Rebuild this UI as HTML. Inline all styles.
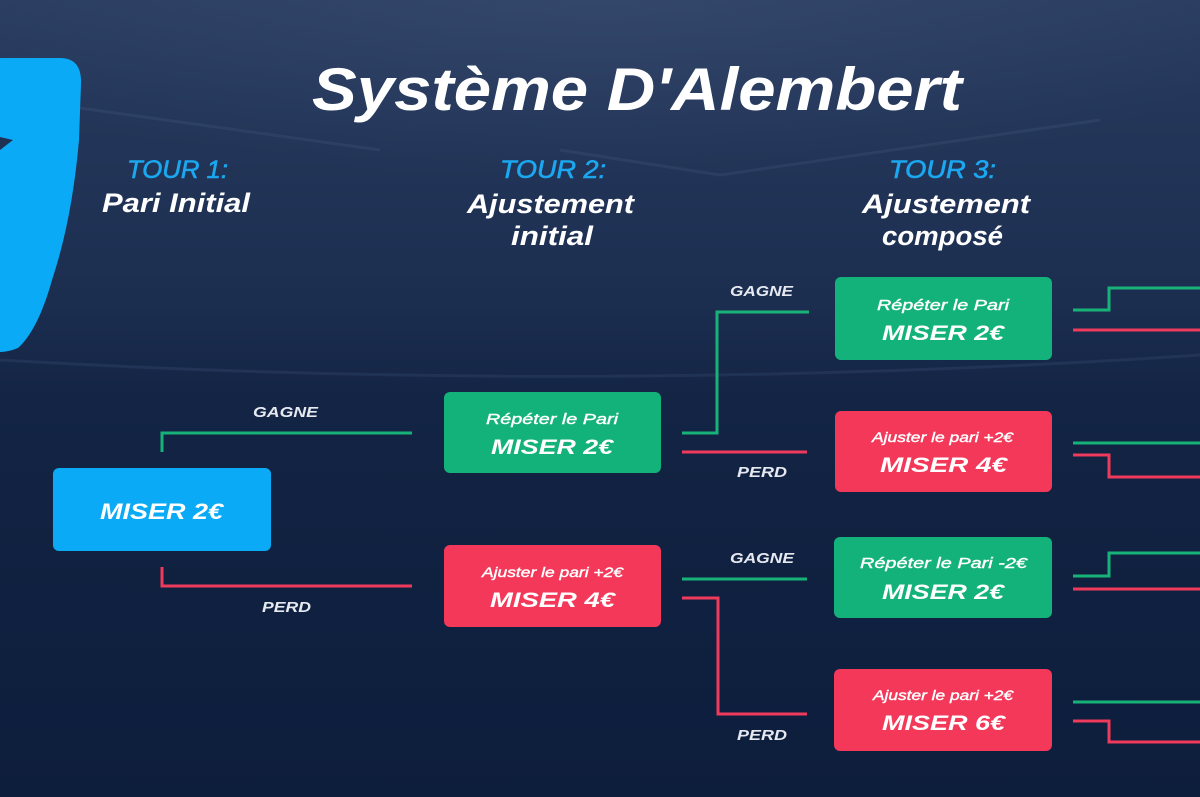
<!DOCTYPE html>
<html><head><meta charset="utf-8"><style>
html,body{margin:0;padding:0;background:#0f1f3f;}
svg{display:block;}
text{font-family:"Liberation Sans",sans-serif;font-style:italic;}
</style></head><body>
<svg width="1200" height="797" viewBox="0 0 1200 797" xmlns="http://www.w3.org/2000/svg">
<defs>
<linearGradient id="bg" x1="0" y1="0" x2="0" y2="1">
<stop offset="0" stop-color="#2a3d60"/>
<stop offset="0.12" stop-color="#24375a"/>
<stop offset="0.38" stop-color="#1c2e50"/>
<stop offset="0.5" stop-color="#132444"/>
<stop offset="1" stop-color="#0d1d3c"/>
</linearGradient>
<radialGradient id="glow" cx="0.5" cy="0" r="0.6">
<stop offset="0" stop-color="#4a5f85" stop-opacity="0.3"/>
<stop offset="1" stop-color="#4a5f85" stop-opacity="0"/>
</radialGradient>
</defs>
<rect width="1200" height="797" fill="url(#bg)"/>
<rect width="1200" height="300" fill="url(#glow)"/>
<!-- faint streaks -->
<g stroke="#5a6f93" stroke-opacity="0.18" stroke-width="3" fill="none">
<path d="M80 108 L380 150"/>
<path d="M560 150 L720 175"/>
<path d="M720 175 L1100 120"/>
<path d="M0 360 Q600 395 1200 355"/>
</g>
<!-- logo -->
<path d="M0 58 L60 58 Q82 58 81 84 L79 140 Q72 220 52 280 Q38 330 18 348 Q8 352 0 352 Z" fill="#0aaaf6"/>
<path d="M0 137 L13 140 L0 150 Z" fill="#1e3154"/>

<!-- title -->
<text x="312" y="110" font-size="60" font-weight="bold" fill="#ffffff" textLength="650" lengthAdjust="spacingAndGlyphs">Système D'Alembert</text>

<!-- headers -->
<g stroke="#1ba8f0" stroke-width="0.6">
<text x="127" y="178" font-size="25" fill="#1ba8f0" textLength="101" lengthAdjust="spacingAndGlyphs">TOUR 1:</text>
<text x="500" y="178" font-size="25" fill="#1ba8f0" textLength="106" lengthAdjust="spacingAndGlyphs">TOUR 2:</text>
<text x="889" y="178" font-size="25" fill="#1ba8f0" textLength="107" lengthAdjust="spacingAndGlyphs">TOUR 3:</text>
</g>
<text x="102" y="212" font-size="27" font-weight="bold" fill="#ffffff" textLength="148" lengthAdjust="spacingAndGlyphs">Pari Initial</text>
<text x="467" y="213" font-size="27" font-weight="bold" fill="#ffffff" textLength="167" lengthAdjust="spacingAndGlyphs">Ajustement</text>
<text x="511" y="245" font-size="27" font-weight="bold" fill="#ffffff" textLength="82" lengthAdjust="spacingAndGlyphs">initial</text>
<text x="862" y="213" font-size="27" font-weight="bold" fill="#ffffff" textLength="168" lengthAdjust="spacingAndGlyphs">Ajustement</text>
<text x="882" y="245" font-size="27" font-weight="bold" fill="#ffffff" textLength="121" lengthAdjust="spacingAndGlyphs">composé</text>

<!-- connectors -->
<g fill="none" stroke-width="3">
<polyline points="162,452 162,433 412,433" stroke="#17b277"/>
<polyline points="162,567 162,586 412,586" stroke="#ef3a5c"/>

<polyline points="682,433 717,433 717,312 809,312" stroke="#17b277"/>
<polyline points="682,452 807,452" stroke="#ef3a5c"/>
<polyline points="682,579 807,579" stroke="#17b277"/>
<polyline points="682,598 718,598 718,714 807,714" stroke="#ef3a5c"/>

<polyline points="1073,310 1109,310 1109,288 1200,288" stroke="#17b277"/>
<polyline points="1073,330 1200,330" stroke="#ef3a5c"/>
<polyline points="1073,443 1200,443" stroke="#17b277"/>
<polyline points="1073,455 1109,455 1109,477 1200,477" stroke="#ef3a5c"/>
<polyline points="1073,576 1109,576 1109,553 1200,553" stroke="#17b277"/>
<polyline points="1073,589 1200,589" stroke="#ef3a5c"/>
<polyline points="1073,702 1200,702" stroke="#17b277"/>
<polyline points="1073,721 1109,721 1109,742 1200,742" stroke="#ef3a5c"/>
</g>

<!-- GAGNE / PERD labels -->
<g font-size="15" font-weight="bold" fill="#e6e9f0">
<text x="253" y="417" textLength="65" lengthAdjust="spacingAndGlyphs">GAGNE</text>
<text x="262" y="612" textLength="49" lengthAdjust="spacingAndGlyphs">PERD</text>
<text x="730" y="296" textLength="63" lengthAdjust="spacingAndGlyphs">GAGNE</text>
<text x="737" y="477" textLength="50" lengthAdjust="spacingAndGlyphs">PERD</text>
<text x="730" y="563" textLength="64" lengthAdjust="spacingAndGlyphs">GAGNE</text>
<text x="737" y="740" textLength="50" lengthAdjust="spacingAndGlyphs">PERD</text>
</g>

<!-- boxes -->
<rect x="53" y="468" width="218" height="83" rx="6" fill="#0aaaf6"/>
<text x="100" y="519" font-size="22" font-weight="bold" fill="#ffffff" textLength="123" lengthAdjust="spacingAndGlyphs">MISER 2€</text>

<rect x="444" y="392" width="217" height="81" rx="6" fill="#12b27a"/>
<rect x="444" y="545" width="217" height="82" rx="6" fill="#f4385a"/>
<rect x="835" y="277" width="217" height="83" rx="6" fill="#12b27a"/>
<rect x="835" y="411" width="217" height="81" rx="6" fill="#f4385a"/>
<rect x="834" y="537" width="218" height="81" rx="6" fill="#12b27a"/>
<rect x="834" y="669" width="218" height="82" rx="6" fill="#f4385a"/>

<g fill="#ffffff" stroke="#ffffff" stroke-width="0.4">
<text x="486" y="424" font-size="15" textLength="132" lengthAdjust="spacingAndGlyphs">Répéter le Pari</text>
<text x="482" y="577" font-size="14" textLength="141" lengthAdjust="spacingAndGlyphs">Ajuster le pari +2€</text>
<text x="877" y="310" font-size="15" textLength="132" lengthAdjust="spacingAndGlyphs">Répéter le Pari</text>
<text x="872" y="442" font-size="14" textLength="141" lengthAdjust="spacingAndGlyphs">Ajuster le pari +2€</text>
<text x="860" y="568" font-size="15" textLength="167" lengthAdjust="spacingAndGlyphs">Répéter le Pari -2€</text>
<text x="873" y="700" font-size="14" textLength="140" lengthAdjust="spacingAndGlyphs">Ajuster le pari +2€</text>
</g>
<g fill="#ffffff" font-weight="bold" font-size="21">
<text x="491" y="454" textLength="122" lengthAdjust="spacingAndGlyphs">MISER 2€</text>
<text x="490" y="607" textLength="125" lengthAdjust="spacingAndGlyphs">MISER 4€</text>
<text x="882" y="340" textLength="122" lengthAdjust="spacingAndGlyphs">MISER 2€</text>
<text x="880" y="472" textLength="127" lengthAdjust="spacingAndGlyphs">MISER 4€</text>
<text x="882" y="599" textLength="122" lengthAdjust="spacingAndGlyphs">MISER 2€</text>
<text x="882" y="730" textLength="123" lengthAdjust="spacingAndGlyphs">MISER 6€</text>
</g>
</svg>
</body></html>
